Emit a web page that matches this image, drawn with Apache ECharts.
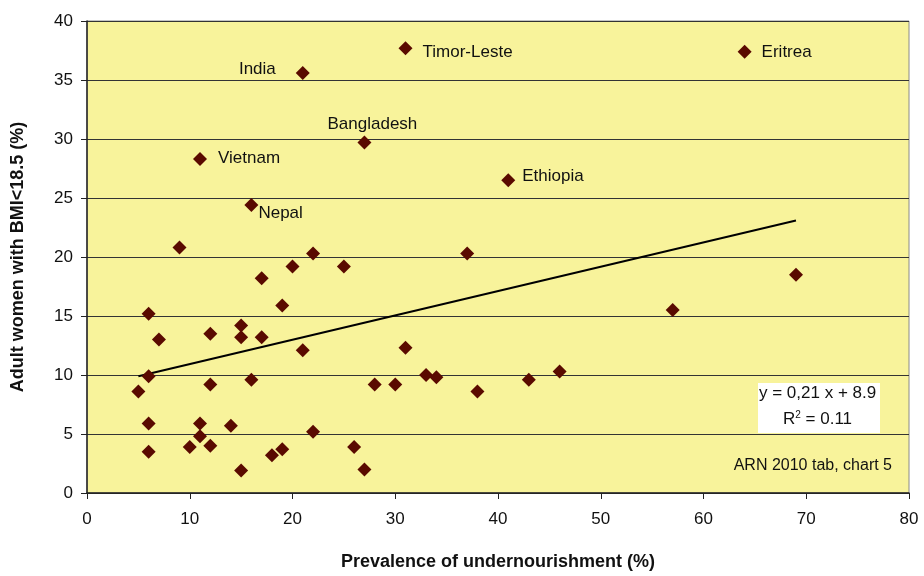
<!DOCTYPE html>
<html>
<head>
<meta charset="utf-8">
<script src="https://cdn.jsdelivr.net/npm/echarts@6/dist/echarts.min.js"></script>
<style>
html,body{margin:0;padding:0;background:#fff;}
#c{width:924px;height:576px;}
</style>
</head>
<body>
<div id="c"></div>
<script>
// Data
const undernourishment = [31, 64, 21, 27, 11, 41, 16, 9, 22, 20, 17, 19, 6, 7, 12, 15, 15, 17, 21, 6, 5, 12, 16, 6, 11, 11, 14, 22, 6, 10, 12, 18, 19, 15, 25, 37, 31, 28, 30, 33, 34, 38, 43, 46, 26, 27, 57, 69];
const lowBmiWomen =      [37.7, 37.4, 35.6, 29.7, 28.3, 26.5, 24.4, 20.8, 20.3, 19.2, 18.2, 15.9, 15.2, 13.0, 13.5, 14.2, 13.2, 13.2, 12.1, 9.9, 8.6, 9.2, 9.6, 5.9, 5.9, 4.8, 5.7, 5.2, 3.5, 3.9, 4.0, 3.2, 3.7, 1.9, 19.2, 20.3, 12.3, 9.2, 9.2, 10.0, 9.8, 8.6, 9.6, 10.3, 3.9, 2.0, 15.5, 18.5];
const countries =        ['Timor-Leste', 'Eritrea', 'India', 'Bangladesh', 'Vietnam', 'Ethiopia', 'Nepal'];
const trendX = [5, 69];
const trendY = [9.9, 23.1];
const xTicks = [0, 10, 20, 30, 40, 50, 60, 70, 80];
const yTicks = [0, 5, 10, 15, 20, 25, 30, 35, 40];
const equationText = 'y = 0,21 x + 8.9';
const r2Text = '0.11';
const sourceText = 'ARN 2010 tab, chart 5';

// Label placement (style, not data)
const labelStyle = {
  'Timor-Leste': {position: 'right', distance: 10, offset: [0, 4]},
  'Eritrea':     {position: 'right', distance: 10, offset: [0, 1]},
  'India':       {position: 'left',  distance: 20, offset: [0, -4]},
  'Bangladesh':  {position: 'top',   distance: 3,  offset: [8, 0]},
  'Vietnam':     {position: 'right', distance: 11, offset: [0, -1]},
  'Ethiopia':    {position: 'right', distance: 7,  offset: [0, -4]},
  'Nepal':       {position: 'right', distance: 0,  offset: [0, 8]}
};

const points = undernourishment.map((x, i) => {
  const name = countries[i] || '';
  const item = {value: [x, lowBmiWomen[i]], name: name};
  if (name) {
    const s = labelStyle[name];
    item.label = Object.assign({show: true, formatter: name}, s);
  }
  return item;
});

const chart = echarts.init(document.getElementById('c'), null, {renderer: 'canvas'});
const FONT = 'Liberation Sans, Arial, sans-serif';
chart.setOption({
  animation: false,
  backgroundColor: '#ffffff',
  grid: {
    left: 87, right: 15, top: 21, bottom: 82,
    show: true, backgroundColor: '#F8F39B', borderColor: '#8a8a8a', borderWidth: 1
  },
  xAxis: {
    type: 'value', min: xTicks[0], max: xTicks[xTicks.length - 1], interval: 10,
    name: 'Prevalence of undernourishment (%)', nameLocation: 'middle', nameGap: 60,
    nameTextStyle: {fontFamily: FONT, fontSize: 18, fontWeight: 'bold', color: '#111'},
    axisLine: {show: true, onZero: false, lineStyle: {color: '#222', width: 1.5}},
    axisTick: {show: true, inside: false, length: 6, lineStyle: {color: '#222'}},
    axisLabel: {fontFamily: FONT, fontSize: 17, color: '#111', margin: 18},
    splitLine: {show: false}
  },
  yAxis: {
    type: 'value', min: yTicks[0], max: yTicks[yTicks.length - 1], interval: 5,
    name: 'Adult women with BMI<18.5 (%)', nameLocation: 'middle', nameGap: 60,
    nameTextStyle: {fontFamily: FONT, fontSize: 18, fontWeight: 'bold', color: '#111'},
    axisLine: {show: true, onZero: false, lineStyle: {color: '#222', width: 1.5}},
    axisTick: {show: true, inside: false, length: 6, lineStyle: {color: '#222'}},
    axisLabel: {fontFamily: FONT, fontSize: 17, color: '#111', margin: 14},
    splitLine: {show: true, lineStyle: {color: '#333', width: 1}}
  },
  series: [
    {
      type: 'scatter',
      symbol: 'diamond',
      symbolSize: 14,
      itemStyle: {color: '#5A0A00', opacity: 1},
      label: {fontFamily: FONT, fontSize: 17, color: '#111'},
      data: points,
      z: 3
    },
    {
      type: 'line',
      data: trendX.map((x, i) => [x, trendY[i]]),
      symbol: 'none',
      lineStyle: {color: '#000', width: 2},
      z: 2,
      silent: true
    }
  ],
  graphic: [
    {
      type: 'rect', left: 758, top: 383, z: 10,
      shape: {width: 122, height: 50},
      style: {fill: '#ffffff'}
    },
    {
      type: 'text', left: 759, top: 385, z: 11,
      style: {text: equationText, fontFamily: FONT, fontSize: 17, fill: '#111'}
    },
    {
      type: 'text', left: 783, top: 410, z: 11,
      style: {
        text: '{a|R}{s|2}{a| = ' + r2Text + '}',
        rich: {
          a: {fontFamily: FONT, fontSize: 17, fill: '#111', color: '#111'},
          s: {fontFamily: FONT, fontSize: 10, fill: '#111', color: '#111', verticalAlign: 'top', padding: [0, 0, 8, 0]}
        }
      }
    },
    {
      type: 'text', right: 32, top: 458, z: 11,
      style: {text: sourceText, fontFamily: FONT, fontSize: 16, fill: '#111'}
    }
  ]
});
</script>
</body>
</html>
